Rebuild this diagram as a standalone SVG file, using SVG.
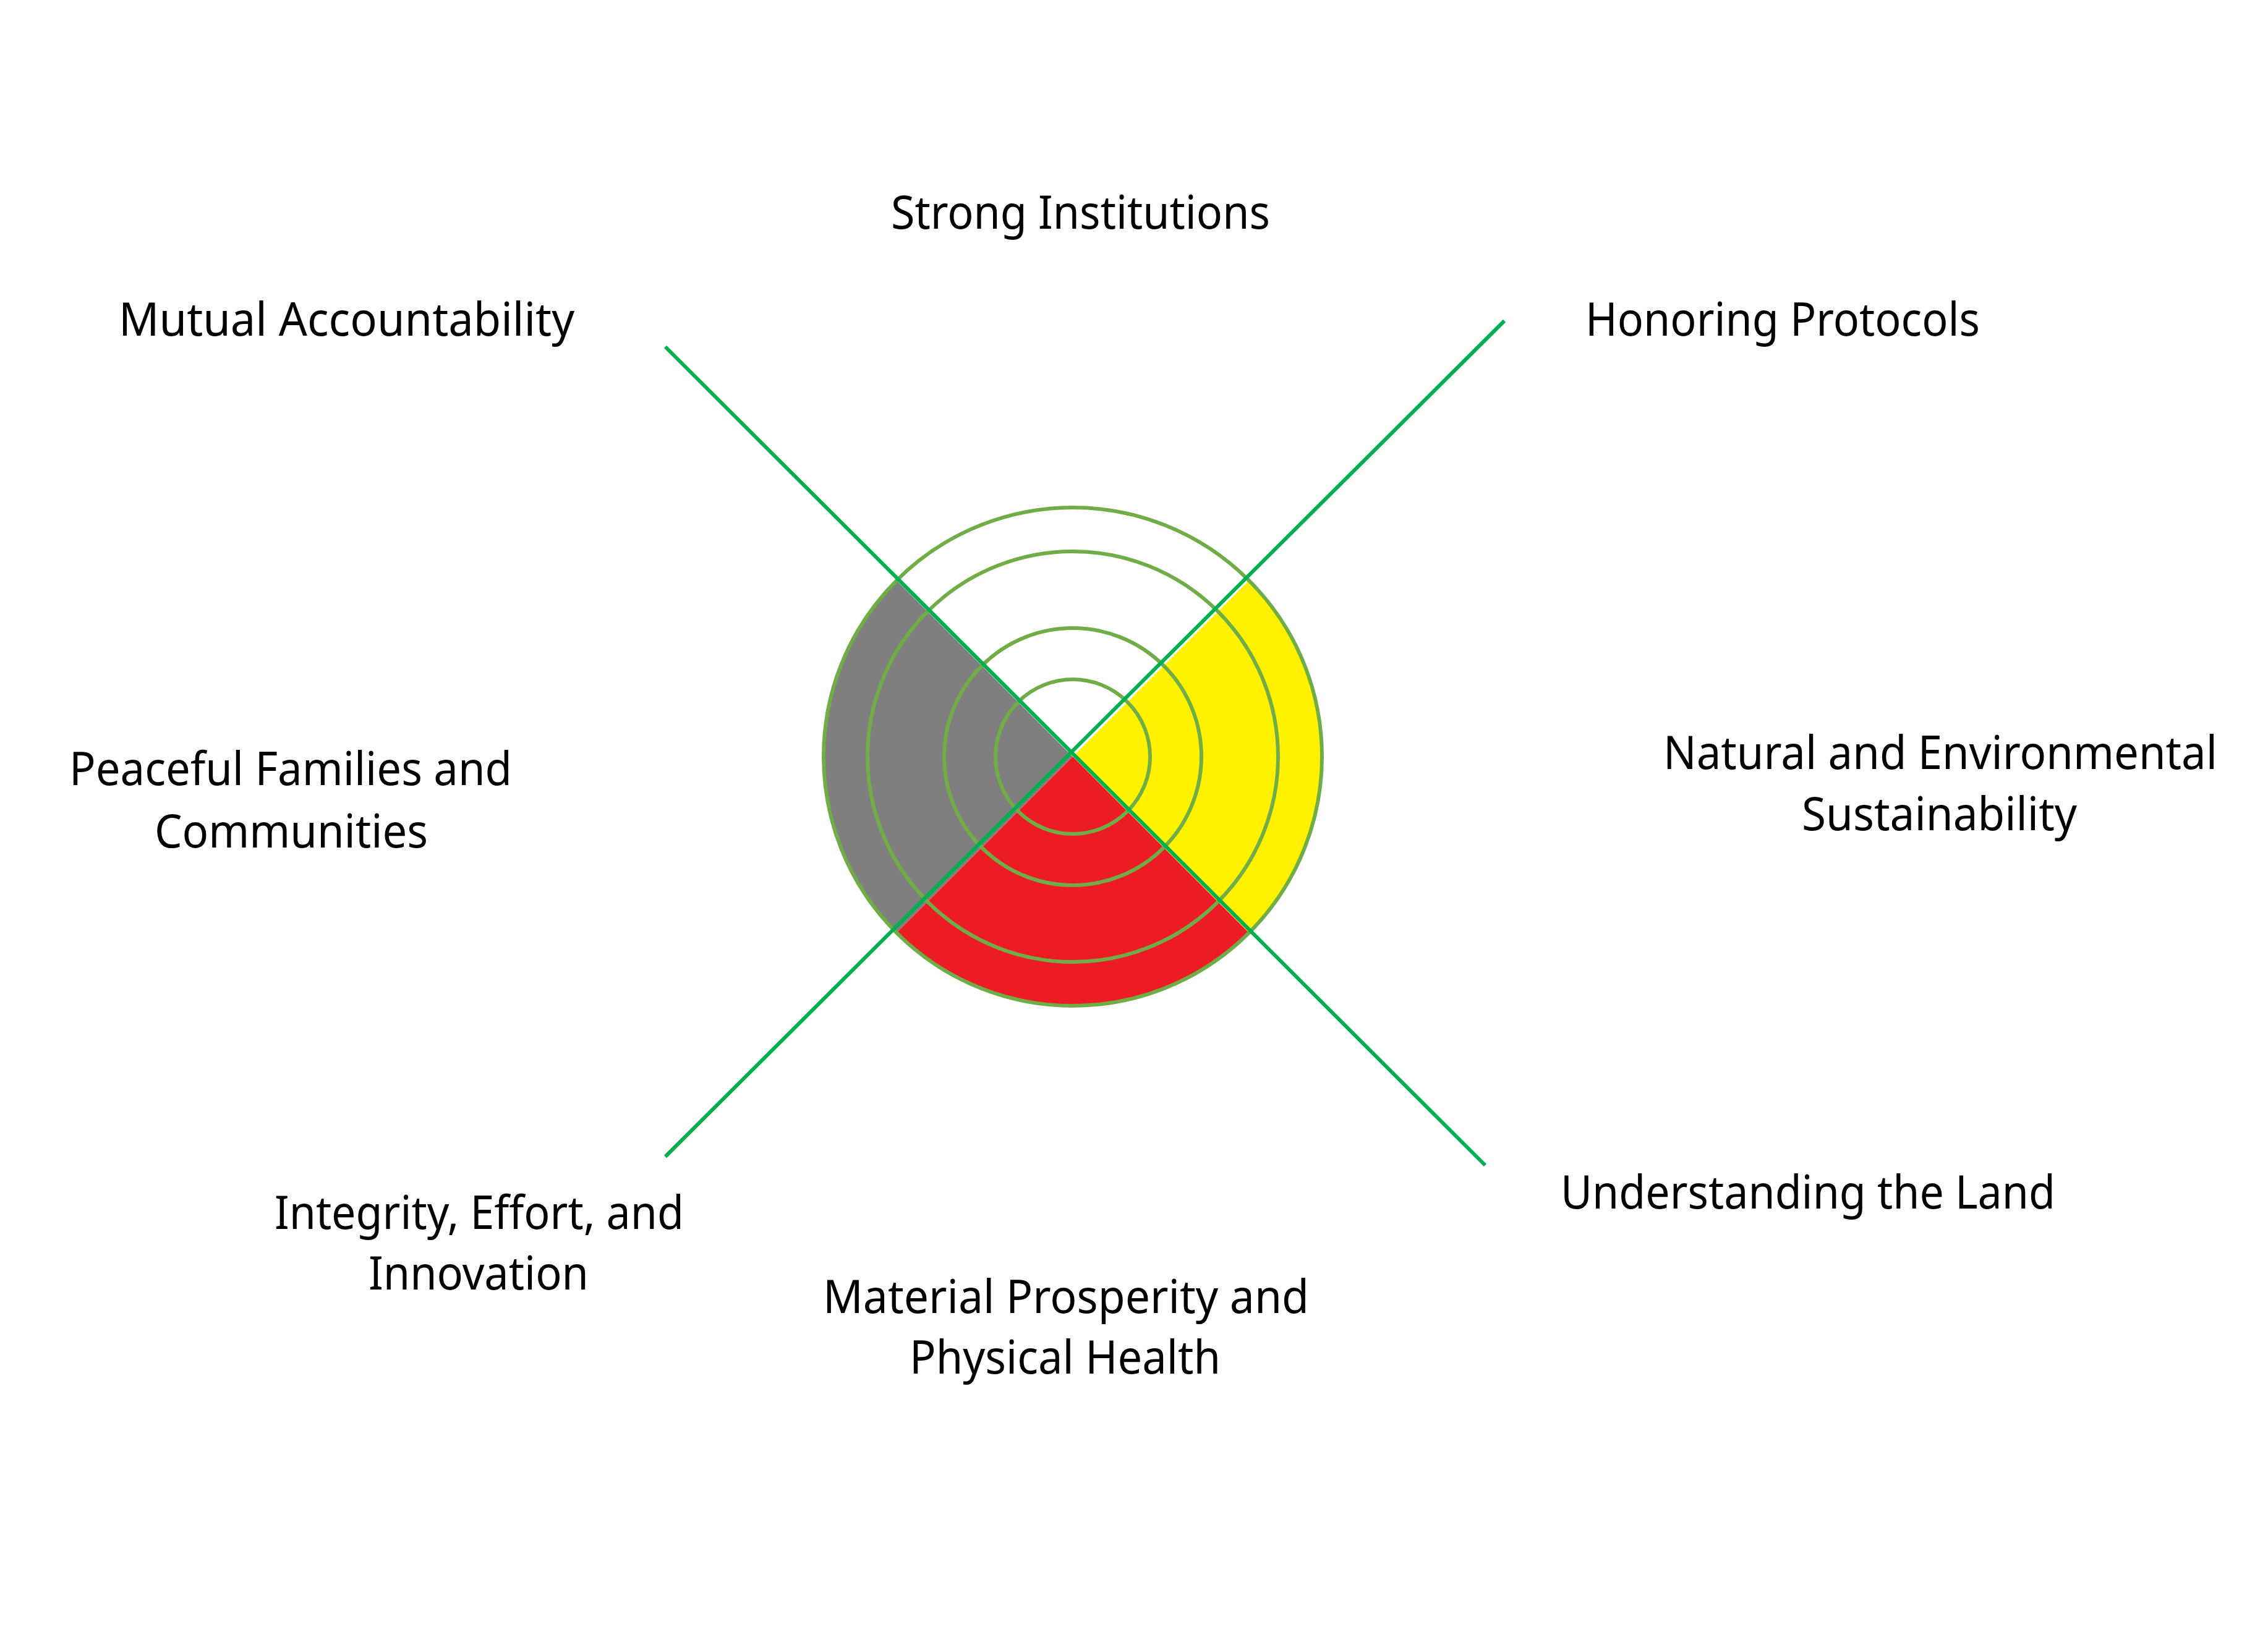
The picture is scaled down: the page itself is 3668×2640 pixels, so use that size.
<svg xmlns="http://www.w3.org/2000/svg" width="3668" height="2640" viewBox="0 0 3668 2640">
<style>
text{font-family:"Noto Sans","Open Sans",sans-serif;font-size:74px;fill:#000}
.ring{fill:none;stroke:#70ad47;stroke-width:6}
.ax{stroke:#00b050;stroke-width:6}
</style>
<rect width="3668" height="2640" fill="#fff"/>
<g id="wheel">
<path d="M1735 1224 L1450 939 A403 403 0 0 0 1450 1509 Z" fill="#7f7f7f"/>
<path d="M1735 1224 L2020 939 A403 403 0 0 1 2020 1509 Z" fill="#fff200"/>
<path d="M1735 1224 L2020 1509 A403 403 0 0 1 1450 1509 Z" fill="#ed1c24"/>
<circle class="ring" cx="1735" cy="1224" r="403"/>
<circle class="ring" cx="1735" cy="1224" r="332"/>
<circle class="ring" cx="1735" cy="1224" r="208"/>
<circle class="ring" cx="1735" cy="1224" r="125"/>
</g>
<g id="connectors">
<line class="ax" x1="1076" y1="561" x2="2402" y2="1885"/>
<line class="ax" x1="2433" y1="519" x2="1076" y2="1871"/>
</g>
<g id="labels">
<text x="1441" y="370" textLength="613" lengthAdjust="spacingAndGlyphs">Strong Institutions</text>
<text x="192" y="543" textLength="737" lengthAdjust="spacingAndGlyphs">Mutual Accountability</text>
<text x="2564" y="543" textLength="638" lengthAdjust="spacingAndGlyphs">Honoring Protocols</text>
<text x="112" y="1270" textLength="716" lengthAdjust="spacingAndGlyphs">Peaceful Families and</text>
<text x="250" y="1371" textLength="442" lengthAdjust="spacingAndGlyphs">Communities</text>
<text x="2690" y="1244" textLength="896" lengthAdjust="spacingAndGlyphs">Natural and Environmental</text>
<text x="2914" y="1343" textLength="445" lengthAdjust="spacingAndGlyphs">Sustainability</text>
<text x="444" y="1988" textLength="662" lengthAdjust="spacingAndGlyphs">Integrity, Effort, and</text>
<text x="596" y="2086" textLength="356" lengthAdjust="spacingAndGlyphs">Innovation</text>
<text x="2524" y="1955" textLength="800" lengthAdjust="spacingAndGlyphs">Understanding the Land</text>
<text x="1331" y="2124" textLength="786" lengthAdjust="spacingAndGlyphs">Material Prosperity and</text>
<text x="1471" y="2222" textLength="503" lengthAdjust="spacingAndGlyphs">Physical Health</text>
</g>
</svg>
